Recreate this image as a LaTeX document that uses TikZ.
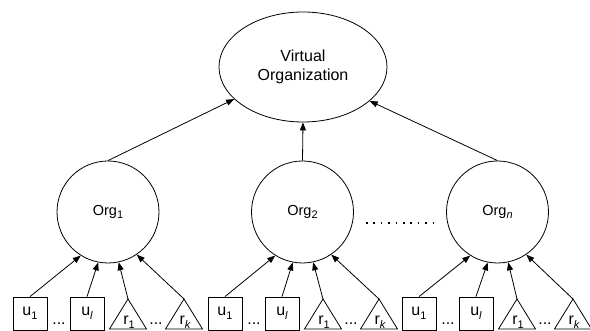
\documentclass[tikz,border=0pt]{standalone}
\usepackage{fontspec}
\setmainfont{Liberation Sans}
\usetikzlibrary{arrows.meta,shapes.geometric}
\newcommand\mysub[1]{\raisebox{-0.45ex}{\fontsize{11pt}{11pt}\selectfont #1}}
\begin{document}
\begin{tikzpicture}[x=1pt,y=1pt,
  line width=0.8pt,
  arr/.style={-{Triangle[length=8pt,width=6pt]}},
  orgc/.style={circle,draw,minimum size=102pt,inner sep=0pt,font=\fontsize{14.5pt}{17pt}\selectfont},
  ubox/.style={rectangle,draw,minimum width=34pt,minimum height=33pt,inner sep=0pt,font=\fontsize{16pt}{18pt}\selectfont},
  lbl/.style={font=\fontsize{16pt}{18pt}\selectfont,inner sep=0pt,anchor=base},
  tri/.style={draw,line join=miter},
  dotline/.style={line width=1.5pt,dash pattern=on 1.5pt off 5.9pt},
]
\useasboundingbox (0,0) rectangle (590,331);
\node[ellipse,draw,minimum width=168pt,minimum height=110pt,inner sep=0pt,align=center,
      font=\fontsize{16pt}{19pt}\selectfont] (vo) at (303,264) {Virtual\\Organization};
\node[orgc] (org1) at (108,119) {Org\mysub{1}};
\node[orgc] (org2) at (302.5,119) {Org\mysub{2}};
\node[orgc] (org3) at (497.5,119) {Org\mysub{\itshape n}};
\draw[arr] (org1.north) -- (vo.205);
\draw[arr] (org2.north) -- (vo.south);
\draw[arr] (org3.north) -- (vo.333);
\draw[dotline] (366,108) -- (434,108);
\foreach \g/\o in {0/1,195/2,389/3}{
  \node[ubox] (u1-\o) at (30+\g,17.5) {u\mysub{1}};
  \node[ubox] (ul-\o) at (87+\g,17.5) {u\mysub{\itshape l}};
  \coordinate (r1a-\o) at (128+\g,32);
  \coordinate (rka-\o) at (184+\g,32);
  \draw[tri] (r1a-\o) -- (109.5+\g,2) -- (146.5+\g,2) -- cycle;
  \draw[tri] (rka-\o) -- (165.5+\g,2) -- (202.5+\g,2) -- cycle;
  \node[lbl] (r1t-\o) at (129+\g,6) {r\mysub{1}};
  \node[lbl] (rkt-\o) at (185+\g,6) {r\mysub{\itshape k}};
  \node[lbl] (d1-\o) at (59+\g,6) {...};
  \node[lbl] (d2-\o) at (156+\g,6) {...};
  \draw[arr] (u1-\o.north) -- (org\o.238);
  \draw[arr] (ul-\o.north) -- (org\o.259);
  \draw[arr] (r1a-\o) -- (org\o.282);
  \draw[arr] (rka-\o) -- (org\o.304);
}
\end{tikzpicture}
\end{document}
